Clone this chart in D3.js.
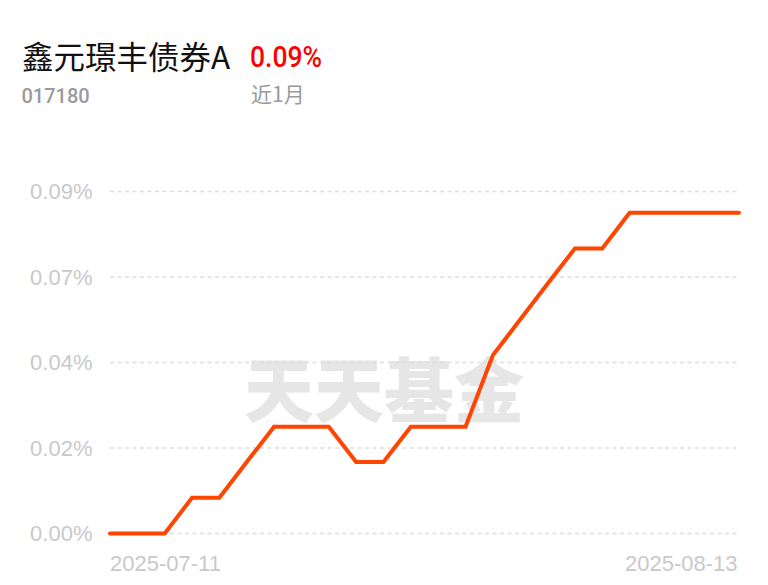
<!DOCTYPE html>
<html>
<head>
<meta charset="utf-8">
<script src="https://cdn.jsdelivr.net/npm/d3@7"></script>
<style>
  html, body { margin: 0; padding: 0; background: #fff; }
  svg { display: block; }
</style>
</head>
<body>
<svg id="chart" width="768" height="585"></svg>
<script>
// ---- data ----
const fundName = "鑫元璟丰债券A";
const fundCode = "017180";
const periodReturn = "0.09%";
const periodLabel = "近1月";
const watermark = "天天基金";

const dates = [
  "2025-07-11", "2025-07-14", "2025-07-15", "2025-07-16", "2025-07-17", "2025-07-18",
  "2025-07-21", "2025-07-22", "2025-07-23", "2025-07-24", "2025-07-25",
  "2025-07-28", "2025-07-29", "2025-07-30", "2025-07-31", "2025-08-01",
  "2025-08-04", "2025-08-05", "2025-08-06", "2025-08-07", "2025-08-08",
  "2025-08-11", "2025-08-12", "2025-08-13"
];
// cumulative return, %
const returns = [
  0, 0, 0, 0.0094, 0.0094, 0.0188,
  0.0281, 0.0281, 0.0281, 0.0188, 0.0188,
  0.0281, 0.0281, 0.0281, 0.0469, 0.0563,
  0.0657, 0.0750, 0.0750, 0.0844, 0.0844,
  0.0844, 0.0844, 0.0844
];
const yTicks = [0, 0.0225, 0.045, 0.0675, 0.09];
const yTickLabels = ["0.00%", "0.02%", "0.04%", "0.07%", "0.09%"];
const xTickLabels = ["2025-07-11", "2025-08-13"];

// ---- drawing ----
(function () {
const svg = d3.select("#chart");
const plotLeft = 110, plotRight = 739, plotTop = 191.5, plotBottom = 533.5;

const x = d3.scalePoint().domain(dates).range([plotLeft, plotRight]);
const y = d3.scaleLinear().domain([0, 0.09]).range([plotBottom, plotTop]);

// header
svg.append("text").attr("x", 22).attr("y", 68.5)
  .attr("font-family", "'Noto Sans CJK SC', sans-serif")
  .attr("font-size", 31.5).attr("fill", "#111").text(fundName);
svg.append("text").attr("x", 250).attr("y", 66.5)
  .attr("font-family", "Roboto, sans-serif").attr("font-weight", 500)
  .attr("font-size", 30).attr("fill", "#ff0000")
  .attr("textLength", 72).attr("lengthAdjust", "spacingAndGlyphs")
  .text(periodReturn);
svg.append("text").attr("x", 21.5).attr("y", 102.7)
  .attr("font-family", "Roboto, sans-serif").attr("font-weight", 500)
  .attr("font-size", 20).attr("fill", "#9a9a9a").text(fundCode);
svg.append("text").attr("x", 251).attr("y", 102)
  .attr("font-family", "'Noto Sans CJK SC', sans-serif")
  .attr("font-size", 21).attr("fill", "#999").text(periodLabel);

// watermark
svg.append("text").attr("x", 384).attr("y", 417)
  .attr("text-anchor", "middle")
  .attr("font-family", "'Noto Sans CJK SC', sans-serif").attr("font-weight", 900)
  .attr("font-size", 70).attr("fill", "#e6e6e6").text(watermark);

// gridlines
svg.append("g").selectAll("line").data(yTicks).join("line")
  .attr("x1", plotLeft).attr("x2", plotRight)
  .attr("y1", d => y(d)).attr("y2", d => y(d))
  .attr("stroke", "#dedede").attr("stroke-width", 1.5)
  .attr("stroke-dasharray", "4,3.5");

// y axis
const yAxis = d3.axisLeft(y).tickValues(yTicks)
  .tickFormat((d, i) => yTickLabels[i]).tickSize(0).tickPadding(0);
const gy = svg.append("g").attr("transform", "translate(92.5,0)").call(yAxis);
gy.select(".domain").remove();
gy.selectAll("text")
  .attr("font-family", "'Liberation Sans', Arial, sans-serif")
  .attr("font-size", 22).attr("fill", "#c9c9c9").attr("dy", "0.34em");

// x axis labels
const xAxis = d3.axisBottom(x).tickValues(xTickLabels).tickSize(0).tickPadding(0);
const gx = svg.append("g").attr("transform", "translate(0,555.5)").call(xAxis);
gx.select(".domain").remove();
gx.selectAll("text")
  .attr("font-family", "'Liberation Sans', Arial, sans-serif")
  .attr("font-size", 22).attr("fill", "#c9c9c9").attr("dy", "0.7em")
  .attr("text-anchor", (d, i) => i === 0 ? "start" : "end")
  .attr("x", (d, i) => i === 0 ? -0.5 : -2);

// line
const line = d3.line().x((d, i) => x(dates[i])).y(d => y(d));
svg.append("path").datum(returns)
  .attr("d", line).attr("fill", "none")
  .attr("stroke", "#ff4500").attr("stroke-width", 4)
  .attr("stroke-linejoin", "miter").attr("stroke-linecap", "round");
})();
</script>
</body>
</html>
